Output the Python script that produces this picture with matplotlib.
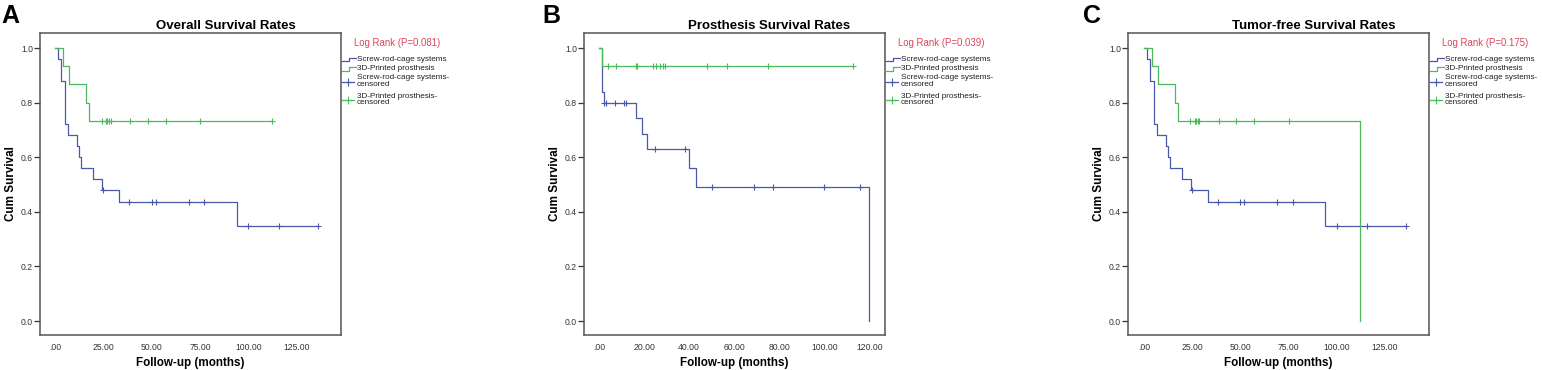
import numpy as np
import matplotlib
matplotlib.use('Agg')
import matplotlib.pyplot as plt
from matplotlib.lines import Line2D

plt.rcParams['font.family'] = ['Liberation Sans', 'DejaVu Sans']

# ---- data (Kaplan-Meier steps + censor times) ----
# panel A: overall survival
A_scr_t = [0, 1.7, 3.1, 5.2, 6.9, 11.2, 12.4, 13.3, 19.8, 24.4, 33.2, 93.8]
A_scr_s = [1.0, 0.96, 0.88, 0.72, 0.68, 0.64, 0.60, 0.56, 0.52, 0.48, 0.436, 0.349]
A_scr_cens = [25.0, 38.3, 49.9, 52.0, 69.0, 77.1, 99.9, 115.9, 136.0]
A_3d_t = [0, 4.3, 7.2, 16.0, 17.4]
A_3d_s = [1.0, 0.933, 0.867, 0.80, 0.733]
A_3d_cens = [24.1, 26.2, 27.0, 27.9, 28.7, 38.9, 47.9, 57.2, 75.1, 111.9]

# panel B: prosthesis survival
B_scr_t = [0, 1.2, 2.2, 16.4, 18.9, 21.1, 40.0, 43.0, 119.7]
B_scr_s = [1.0, 0.84, 0.80, 0.743, 0.686, 0.629, 0.56, 0.49, 0.0]
B_scr_cens = [2.4, 3.1, 7.1, 11.2, 12.0, 25.0, 38.0, 50.0, 68.8, 76.9, 99.8, 115.6]
B_3d_t = [0, 1.2]
B_3d_s = [1.0, 0.933]
B_3d_cens = [4.1, 7.4, 16.4, 16.9, 24.0, 25.5, 27.0, 28.2, 29.2, 48.0, 56.8, 75.0, 112.5]

# panel C: tumor-free survival (screw-rod-cage curve same as in A)
C_scr_t = A_scr_t
C_scr_s = A_scr_s
C_scr_cens = A_scr_cens
C_3d_t = [0, 4.3, 7.2, 16.0, 17.4, 111.8]
C_3d_s = [1.0, 0.933, 0.867, 0.80, 0.733, 0.0]
C_3d_cens = [24.1, 26.2, 27.0, 27.9, 28.7, 38.9, 47.9, 57.2, 75.0]

titles = ['Overall Survival Rates', 'Prosthesis Survival Rates', 'Tumor-free Survival Rates']
letters = ['A', 'B', 'C']
pvals = ['Log Rank (P=0.081)', 'Log Rank (P=0.039)', 'Log Rank (P=0.175)']
xticks_ac = [0, 25, 50, 75, 100, 125]
xlabels_ac = ['.00', '25.00', '50.00', '75.00', '100.00', '125.00']
xticks_b = [0, 20, 40, 60, 80, 100, 120]
xlabels_b = ['.00', '20.00', '40.00', '60.00', '80.00', '100.00', '120.00']
yticks = [0.0, 0.2, 0.4, 0.6, 0.8, 1.0]
ylabels = ['0.0', '0.2', '0.4', '0.6', '0.8', '1.0']
legend_names = ['Screw-rod-cage systems', '3D-Printed prosthesis',
                'Screw-rod-cage systems-\ncensored', '3D-Printed prosthesis-\ncensored']

BLUE = '#4a58a8'
GREEN = '#4cba5c'
RED = '#d9465a'
FRAME = '#555555'

W, H = 1542, 370
fig = plt.figure(figsize=(W / 100, H / 100), dpi=100)


def px_fig(x, y):
    return x / W, 1 - y / H


def km(ax, t, s, cens, color):
    t = np.asarray(t, float)
    s = np.asarray(s, float)
    end = max(t[-1], max(cens))
    tt = np.append(t, end)
    ss = np.append(s, s[-1])
    ax.step(tt, ss, where='post', color=color, lw=0.9)
    idx = np.searchsorted(t, cens, side='right') - 1
    ax.plot(cens, s[idx], ls='none', marker='+', ms=5, mew=0.8, color=color)


panels = [
    (40, (-7.75, 147.7), xticks_ac, xlabels_ac,
     (A_scr_t, A_scr_s, A_scr_cens), (A_3d_t, A_3d_s, A_3d_cens)),
    (584, (-6.6, 126.7), xticks_b, xlabels_b,
     (B_scr_t, B_scr_s, B_scr_cens), (B_3d_t, B_3d_s, B_3d_cens)),
    (1128, (-8.3, 147.8), xticks_ac, xlabels_ac,
     (C_scr_t, C_scr_s, C_scr_cens), (C_3d_t, C_3d_s, C_3d_cens)),
]

ax_w, ax_top, ax_bot = 301, 33, 335
ax_h = ax_bot - ax_top
for i, (left, xlim, xt, xl, scr, d3) in enumerate(panels):
    ax = fig.add_axes([left / W, 1 - ax_bot / H, ax_w / W, ax_h / H])
    km(ax, *scr, BLUE)
    km(ax, *d3, GREEN)
    ax.set_xlim(*xlim)
    ax.set_ylim(-0.051, 1.055)
    ax.set_xticks(xt)
    ax.set_xticklabels(xl)
    ax.set_yticks(yticks)
    ax.set_yticklabels(ylabels)
    ax.tick_params(axis='x', length=0, pad=6, labelsize=6.2, colors='#333333')
    ax.tick_params(axis='y', length=4, width=0.9, pad=1, labelsize=6.2, colors='#333333')
    for sp in ax.spines.values():
        sp.set_color(FRAME)
        sp.set_linewidth(1.1)
    ax.set_xlabel('Follow-up (months)', fontsize=8.4, fontweight='bold', va='center')
    ax.xaxis.set_label_coords(0.5, -28 / ax_h)
    ax.set_ylabel('Cum Survival', fontsize=8.4, fontweight='bold', va='center')
    ax.yaxis.set_label_coords(-29 / ax_w, 0.5)
    ax.text(0.5 + 35 / ax_w, 1 + 7 / ax_h, titles[i], transform=ax.transAxes,
            ha='center', va='center', fontsize=9.5, fontweight='bold')

    # panel letter
    lx = [10, 551, 1092.5][i]
    fig.text(*px_fig(lx, 16), letters[i], ha='center', va='center',
             fontsize=18, fontweight='bold')

    # legend drawn by hand, SPSS style
    r = left + ax_w
    fig.text(*px_fig(r + 13, 43.5), pvals[i], color=RED, fontsize=6.9,
             ha='left', va='center')
    for k, (yy, col) in enumerate([(59.5, BLUE), (69, GREEN)]):
        xs = [r + 0.5, r + 7.5, r + 7.5, r + 15]
        ys = [yy + 1.8, yy + 1.8, yy - 1.8, yy - 1.8]
        fx, fy = zip(*[px_fig(a, b) for a, b in zip(xs, ys)])
        fig.add_artist(Line2D(fx, fy, color=col, lw=0.9, transform=fig.transFigure))
        fig.text(*px_fig(r + 16, yy), legend_names[k], fontsize=5.9,
                 ha='left', va='center', color='#222222')
    for k, (yy, col) in enumerate([(81.5, BLUE), (100, GREEN)]):
        fx, fy = zip(*[px_fig(a, yy) for a in (r + 0.5, r + 13)])
        fig.add_artist(Line2D(fx, fy, color=col, lw=0.9, transform=fig.transFigure))
        mx, my = px_fig(r + 7, yy)
        fig.add_artist(Line2D([mx], [my], ls='none', marker='+', ms=6, mew=0.8,
                              color=col, transform=fig.transFigure))
        fig.text(*px_fig(r + 16, yy - 0.5), legend_names[k + 2], fontsize=5.9,
                 ha='left', va='center', color='#222222', linespacing=0.85)

fig.savefig('out.png', dpi=100)
